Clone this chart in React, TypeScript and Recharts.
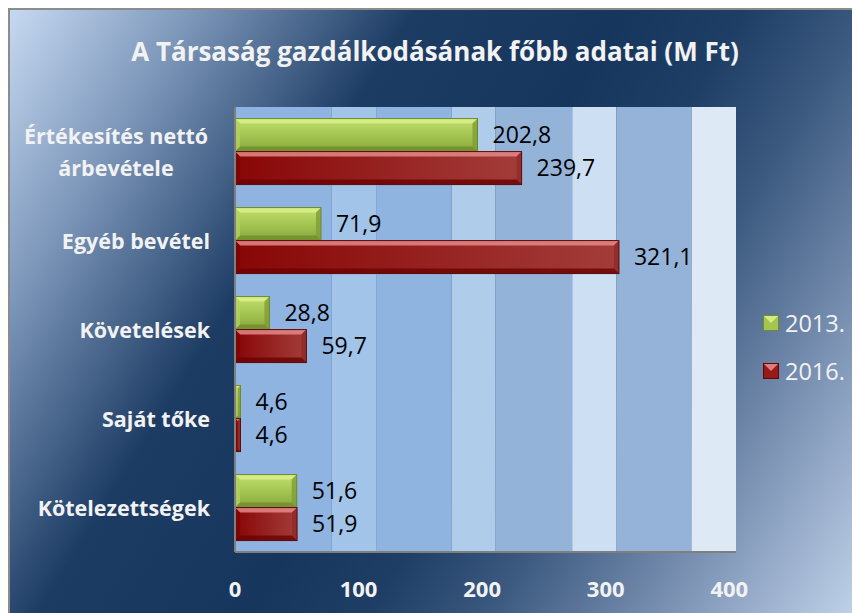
import React from 'react';
import { BarChart, Bar, XAxis, YAxis, ReferenceArea, LabelList } from 'recharts';

const categories = ['Értékesítés nettó árbevétele', 'Egyéb bevétel', 'Követelések', 'Saját tőke', 'Kötelezettségek'];
const series2013 = [202.8, 71.9, 28.8, 4.6, 51.6];
const series2016 = [239.7, 321.1, 59.7, 4.6, 51.9];
const seriesNames = ['2013.', '2016.'];
const xTicks = [0, 100, 200, 300, 400];
const bandEdges = [0, 81, 118, 181, 218, 282, 319, 382, 419];
const bandColors = ['#8fb4e2', '#a1c4e8', '#8fb4e0', '#afcdea', '#94b3d9', '#cddff2', '#95b3d9', '#dde9f5'];

const data = categories.map((name, i) => ({ name, v2013: series2013[i], v2016: series2016[i] }));

const FONT = '"Open Sans", Lato, sans-serif';

const fmt = (v: any) => Number(v).toFixed(1).replace('.', ',');

const makeShape = (kind: 'green' | 'red') => (props: any) => {
  const { x, y, width, height, index } = props;
  if (!width || width <= 0) return null;
  const b = Math.max(0, Math.min(5, width / 2, height / 2));
  const id = `g-${kind}-${index}`;
  const isG = kind === 'green';
  return (
    <g>
      <defs>
        {isG ? (
          <linearGradient id={id} x1="0" y1="0" x2="0" y2="1">
            <stop offset="0%" stopColor="#c2df6e" />
            <stop offset="50%" stopColor="#a5c552" />
            <stop offset="100%" stopColor="#86a83c" />
          </linearGradient>
        ) : (
          <linearGradient id={id} x1="0" y1="0" x2="1" y2="0">
            <stop offset="0%" stopColor="#880606" />
            <stop offset="100%" stopColor="#a33d3a" />
          </linearGradient>
        )}
      </defs>
      <rect x={x} y={y} width={width} height={height} fill={`url(#${id})`} />
      <polygon
        points={`${x},${y} ${x + width},${y} ${x + width - b},${y + b} ${x + b},${y + b}`}
        fill={isG ? '#d9f08a' : '#e38a88'}
        opacity={0.85}
      />
      <polygon
        points={`${x + width},${y} ${x + width},${y + height} ${x + width - b},${y + height - b} ${x + width - b},${y + b}`}
        fill={isG ? '#7f9e35' : '#8e2a28'}
        opacity={0.8}
      />
      <polygon
        points={`${x},${y + height} ${x + width},${y + height} ${x + width - b},${y + height - b} ${x + b},${y + height - b}`}
        fill={isG ? '#6f8d2c' : '#6a0202'}
        opacity={0.8}
      />
      <polygon
        points={`${x},${y} ${x + b},${y + b} ${x + b},${y + height - b} ${x},${y + height}`}
        fill={isG ? '#b3d25e' : '#7a0404'}
        opacity={0.7}
      />
      <rect x={x} y={y} width={width} height={height} fill="none" stroke={isG ? '#6c8a2a' : '#5e0a0a'} strokeWidth={1} />
    </g>
  );
};

const YTick = (props: any) => {
  const { x, y, payload } = props;
  const text: string = payload.value;
  const right = x - 17;
  const style = { fontFamily: FONT, fontWeight: 700, fontSize: 21.5, fill: '#f2f2f2' } as any;
  if (text.length > 18) {
    const idx = text.lastIndexOf(' ');
    const l1 = text.slice(0, idx);
    const l2 = text.slice(idx + 1);
    return (
      <g>
        <text x={right - 94} y={y - 16} textAnchor="middle" dominantBaseline="central" style={style}>{l1}</text>
        <text x={right - 94} y={y + 16} textAnchor="middle" dominantBaseline="central" style={style}>{l2}</text>
      </g>
    );
  }
  return (
    <text x={right} y={y} textAnchor="end" dominantBaseline="central" style={style}>{text}</text>
  );
};

const XTick = (props: any) => {
  const { x, y, payload, index } = props;
  return (
    <text x={x + index * 4} y={y + 28} textAnchor="middle" dominantBaseline="central"
      style={{ fontFamily: FONT, fontWeight: 700, fontSize: 22, fill: '#f2f2f2' }}>
      {payload.value}
    </text>
  );
};

const LegendBox = () => {
  const colors = [['#a5c552', '#d9f08a', '#6f8d2c'], ['#951a18', '#e38a88', '#5e0a0a']];
  return (
    <div style={{ position: 'absolute', left: 753, top: 289, fontFamily: FONT }}>
      {seriesNames.map((n, i) => (
        <div key={n} style={{ display: 'flex', alignItems: 'center', height: 48 }}>
          <svg width={16} height={16} style={{ marginRight: 6 }}>
            <rect x={0.5} y={0.5} width={15} height={15} fill={colors[i][0]} stroke={colors[i][2]} />
            <polygon points="1,1 15,1 8,8" fill={colors[i][1]} opacity={0.9} />
          </svg>
          <span style={{ color: '#f2f2f2', fontSize: 23.5 }}>{n}</span>
        </div>
      ))}
    </div>
  );
};

export default function App() {
  return (
    <div
      style={{
        position: 'relative',
        width: 852,
        height: 605,
        boxSizing: 'border-box',
        borderLeft: '2px solid #8c8c8c',
        borderTop: '2px solid #8c8c8c',
        background:
          'linear-gradient(122deg, #c6d9f1 0%, #7d97ba 15%, #1d3c64 33%, #17365d 50%, #1f3e66 60%, #3c5a80 70%, #7189ab 82%, #95aac8 90%, #c0d3ea 100%)',
        overflow: 'hidden',
      }}
    >
      <div
        style={{
          position: 'absolute',
          top: 23,
          left: 0,
          width: 850,
          textAlign: 'center',
          fontFamily: FONT,
          fontWeight: 700,
          fontSize: 26,
          color: '#f2f2f2',
        }}
      >
        A Társaság gazdálkodásának főbb adatai (M Ft)
      </div>
      <div style={{ position: 'absolute', left: -2, top: -2 }}>
        <BarChart
          width={852}
          height={605}
          data={data}
          layout="vertical"
          margin={{ top: 99, right: 124, bottom: 21, left: 0 }}
          barCategoryGap="13%"
          barGap={0}
        >
          {bandColors.map((c, i) => (
            <ReferenceArea key={i} x1={bandEdges[i]} x2={bandEdges[i + 1]} fill={c} fillOpacity={1} stroke="none" ifOverflow="visible" />
          ))}
          <XAxis type="number" domain={[0, 419]} ticks={xTicks} tick={<XTick />} tickLine={false}
            axisLine={{ stroke: '#7f7f7f', strokeWidth: 2 }} height={40} allowDataOverflow />
          <YAxis type="category" dataKey="name" width={227} tick={<YTick />} tickLine={false}
            axisLine={{ stroke: '#7f7f7f', strokeWidth: 2 }} interval={0} />
          <Bar dataKey="v2013" name="2013." shape={makeShape('green')} isAnimationActive={false}>
            <LabelList dataKey="v2013" position="right" offset={15} formatter={fmt}
              style={{ fontFamily: FONT, fontSize: 23, fill: '#000' }} />
          </Bar>
          <Bar dataKey="v2016" name="2016." shape={makeShape('red')} isAnimationActive={false}>
            <LabelList dataKey="v2016" position="right" offset={15} formatter={fmt}
              style={{ fontFamily: FONT, fontSize: 23, fill: '#000' }} />
          </Bar>
        </BarChart>
      </div>
      <LegendBox />
    </div>
  );
}
